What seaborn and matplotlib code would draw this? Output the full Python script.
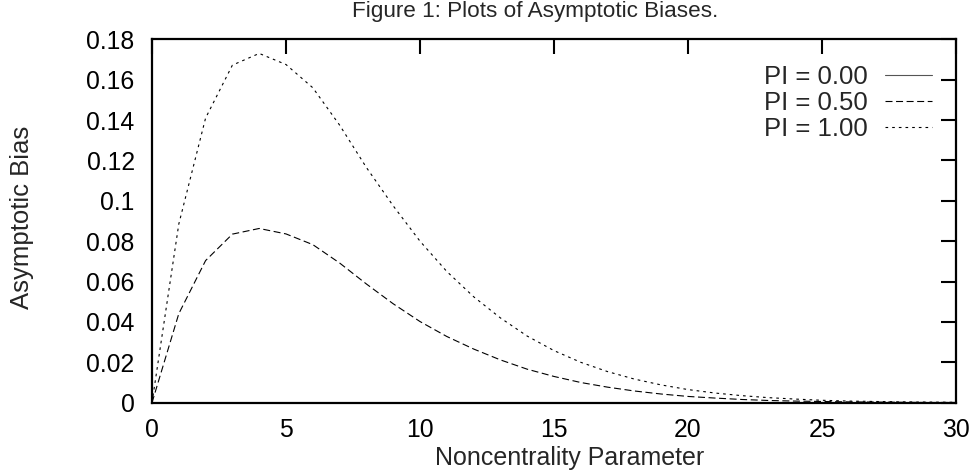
import numpy as np
import pandas as pd
import matplotlib
matplotlib.use("Agg")
import matplotlib.pyplot as plt
from matplotlib.ticker import FuncFormatter
import seaborn as sns

# ---- data ----
noncentrality = list(range(0, 31))
bias_pi_000 = [0.0] * 31
bias_pi_050 = [0.0, 0.0441, 0.0704, 0.0835, 0.0863, 0.0836, 0.0783, 0.0692, 0.0588, 0.0490,
               0.0402, 0.0328, 0.0266, 0.0212, 0.0166, 0.0130, 0.0100, 0.0077, 0.0058, 0.0043,
               0.0031, 0.0023, 0.0016, 0.0011, 0.0008, 0.0006, 0.0004, 0.0003, 0.0002, 0.0001,
               0.0001]
bias_pi_100 = [0.0, 0.0885, 0.1410, 0.1672, 0.1730, 0.1675, 0.1560, 0.1375, 0.1165, 0.0975,
               0.0800, 0.0650, 0.0525, 0.0420, 0.0330, 0.0258, 0.0200, 0.0154, 0.0117, 0.0088,
               0.0065, 0.0048, 0.0035, 0.0025, 0.0018, 0.0012, 0.0008, 0.0006, 0.0004, 0.0003,
               0.0002]
series_labels = ["PI = 0.00", "PI = 0.50", "PI = 1.00"]
x_ticks = [0, 5, 10, 15, 20, 25, 30]
y_ticks = [0, 0.02, 0.04, 0.06, 0.08, 0.10, 0.12, 0.14, 0.16, 0.18]

df = pd.concat([
    pd.DataFrame({"x": noncentrality, "y": vals, "series": lab})
    for lab, vals in zip(series_labels, [bias_pi_000, bias_pi_050, bias_pi_100])
], ignore_index=True)

sns.set_theme(style="white")
plt.rcParams["font.family"] = ["Liberation Sans", "DejaVu Sans"]

fig = plt.figure(figsize=(9.74, 4.72), dpi=100)
ax = fig.add_axes([152/974, 1 - 402.7/472, (956-152)/974, (402.7-39.3)/472])

lw = 0.8
dashes = {series_labels[0]: "", series_labels[1]: (6.3, 3.2), series_labels[2]: (2.4, 3.6)}
palette = {series_labels[0]: "#555555", series_labels[1]: "black", series_labels[2]: "black"}
sns.lineplot(data=df, x="x", y="y", hue="series", style="series", dashes=dashes,
             palette=palette, linewidth=lw, ax=ax, legend=True)

ax.set_xlim(0, 30)
ax.set_ylim(0, 0.18)
ax.set_xticks(x_ticks)
ax.set_yticks(y_ticks)
ax.yaxis.set_major_formatter(FuncFormatter(lambda v, p: "%g" % round(v, 4)))

fs = 17.8
ax.tick_params(direction="in", top=True, right=True, length=11, width=1.5,
               labelsize=fs, colors="black")
ax.tick_params(axis="x", pad=11)
ax.tick_params(axis="y", pad=12.5)
for s in ax.spines.values():
    s.set_linewidth(1.6)
    s.set_color("black")

ax.set_xlabel("")
ax.set_ylabel("")
fig.text(570/974, 1 - 458/472, "Noncentrality Parameter", ha="center", va="center",
         fontsize=18)
fig.text(22.5/974, 1 - 217.5/472, "Asymptotic Bias", ha="center", va="center",
         rotation=90, fontsize=18.5)
fig.text(535/974, 1 - 12/472, "Figure 1: Plots of Asymptotic Biases.", ha="center", va="center",
         fontsize=16.2)

handles, labels = ax.get_legend_handles_labels()
leg = ax.legend(handles, labels, loc="upper right", bbox_to_anchor=(0.9698, 0.93),
                frameon=False, markerfirst=False, fontsize=18.5, handlelength=1.8,
                handletextpad=0.7, labelspacing=0.08, borderpad=0, borderaxespad=0)
for t in leg.get_texts():
    t.set_ha("right")

fig.savefig("out.png", dpi=100, facecolor="white")
